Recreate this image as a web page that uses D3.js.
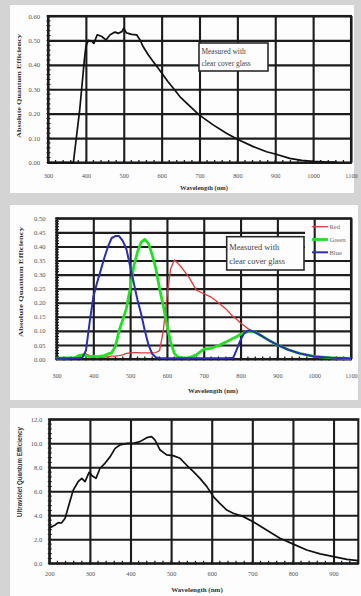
<!DOCTYPE html>
<html>
<head>
<meta charset="utf-8">
<script src="https://cdn.jsdelivr.net/npm/d3@7/dist/d3.min.js"></script>
<style>
  html, body { margin: 0; padding: 0; background: #d4d4d4; }
  svg { display: block; }
</style>
</head>
<body>
<svg id="chart" width="361" height="596"></svg>
<script>
// ---- Panel 1: absolute quantum efficiency, monochrome sensor ----
const wl1 = [300, 367, 384, 396, 400, 406, 415, 421, 430, 442, 453, 464, 477, 486, 495, 500, 507, 521,
             534, 543, 551, 565, 578, 591, 604, 617, 631, 648, 666, 699, 736, 771, 800, 842, 877, 900,
             938, 970, 1000, 1030, 1062];
const qe1 = [0, 0, 0.22, 0.42, 0.475, 0.5, 0.497, 0.488, 0.523, 0.516, 0.502, 0.523, 0.534, 0.529, 0.536, 0.55, 0.531, 0.525,
             0.523, 0.502, 0.475, 0.44, 0.413, 0.386, 0.358, 0.331, 0.304, 0.27, 0.243, 0.195, 0.154, 0.12, 0.095, 0.065, 0.044, 0.035,
             0.017, 0.009, 0.005, 0.003, 0.002];
const xTicks1 = [300, 400, 500, 600, 700, 800, 900, 1000, 1100];
const yTicks1 = [0, 0.1, 0.2, 0.3, 0.4, 0.5, 0.6];

// ---- Panel 2: absolute quantum efficiency, colour sensor ----
const wlRGB = [300, 350, 360, 370, 380, 390, 400, 410, 420, 430, 440, 450, 460, 470, 480, 490, 500, 510, 520, 530,
               540, 550, 560, 570, 580, 590, 600, 610, 620, 630, 640, 660, 680, 700, 720, 740, 760, 780, 790, 800,
               810, 820, 830, 840, 860, 880, 900, 930, 960, 1000, 1050, 1100];
const qeRed = [0.003, 0.003, 0.005, 0.015, 0.018, 0.012, 0.008, 0.006, 0.006, 0.007, 0.008, 0.01, 0.01, 0.012, 0.015, 0.02, 0.022, 0.023, 0.023, 0.022,
               0.022, 0.022, 0.022, 0.023, 0.03, 0.1, 0.22, 0.32, 0.352, 0.34, 0.325, 0.29, 0.245, 0.232, 0.22, 0.2, 0.178, 0.15, 0.14, 0.128,
               0.118, 0.108, 0.1, 0.095, 0.08, 0.064, 0.05, 0.033, 0.02, 0.009, 0.004, 0.002];
const qeGreen = [0.003, 0.005, 0.012, 0.015, 0.012, 0.008, 0.01, 0.008, 0.01, 0.012, 0.018, 0.022, 0.045, 0.1, 0.14, 0.18, 0.25, 0.33, 0.38, 0.415,
                 0.425, 0.41, 0.37, 0.32, 0.25, 0.19, 0.12, 0.06, 0.02, 0.007, 0.005, 0.004, 0.015, 0.035, 0.038, 0.048, 0.06, 0.074, 0.08, 0.088,
                 0.093, 0.097, 0.099, 0.095, 0.08, 0.064, 0.05, 0.033, 0.02, 0.009, 0.004, 0.002];
const qeBlue = [0.003, 0.003, 0.003, 0.005, 0.03, 0.13, 0.22, 0.27, 0.315, 0.36, 0.4, 0.43, 0.437, 0.437, 0.42, 0.39, 0.33, 0.27, 0.21, 0.16,
                0.1, 0.05, 0.018, 0.006, 0.004, 0.003, 0.003, 0.003, 0.003, 0.003, 0.003, 0.003, 0.003, 0.003, 0.003, 0.003, 0.003, 0.004, 0.035, 0.068,
                0.092, 0.1, 0.1, 0.095, 0.08, 0.064, 0.05, 0.033, 0.02, 0.009, 0.004, 0.002];
const seriesNames = ["Red", "Green", "Blue"];
const xTicks2 = [300, 400, 500, 600, 700, 800, 900, 1000, 1100];
const yTicks2 = [0, 0.05, 0.1, 0.15, 0.2, 0.25, 0.3, 0.35, 0.4, 0.45, 0.5];

// ---- Panel 3: ultraviolet quantum efficiency ----
const wl3 = [200, 214, 222, 230, 239, 247, 259, 271, 280, 288, 298, 307, 315, 325, 337, 350, 362, 374, 391, 407,
             423, 440, 452, 460, 473, 489, 505, 522, 538, 555, 571, 588, 604, 620, 637, 653, 678, 702, 735, 768,
             801, 834, 867, 900, 933, 961];
const qe3 = [2.92, 3.19, 3.39, 3.36, 3.75, 4.72, 6.1, 6.8, 7.08, 6.8, 7.58, 7.25, 7.08, 7.92, 8.33, 8.89, 9.58, 9.86, 9.99, 10.0,
             10.14, 10.47, 10.55, 10.28, 9.44, 9.03, 8.97, 8.75, 8.19, 7.64, 7.08, 6.39, 5.56, 5.0, 4.44, 4.17, 3.89, 3.47, 2.78, 2.08,
             1.6, 1.11, 0.78, 0.56, 0.33, 0.22];
const xTicks3 = [200, 300, 400, 500, 600, 700, 800, 900];
const yTicks3 = [0, 2, 4, 6, 8, 10, 12];

const SERIF = "'Liberation Serif', 'DejaVu Serif', serif";
const SANS = "'Liberation Sans', Arial, sans-serif";
const GRID = "#1c1c1c";
const GRID_W = "2.1px";

const svg = d3.select("#chart");

function drawPanel(cfg) {
  const g = svg.append("g");
  g.append("rect")
    .attr("x", cfg.box[0]).attr("y", cfg.box[1])
    .attr("width", cfg.box[2] - cfg.box[0]).attr("height", cfg.box[3] - cfg.box[1])
    .attr("fill", "#fdfdfd");

  const x = d3.scaleLinear().domain(cfg.xDomain).range([cfg.left, cfg.right]);
  const y = d3.scaleLinear().domain(cfg.yDomain).range([cfg.bottom, cfg.top]);

  // horizontal grid + y labels
  const gy = g.append("g")
    .attr("transform", `translate(${cfg.left},0)`)
    .call(d3.axisLeft(y).tickValues(cfg.yTicks).tickSize(-(cfg.right - cfg.left))
      .tickPadding(cfg.yPad).tickFormat(d3.format(cfg.yFmt)));
  gy.select(".domain").remove();
  gy.selectAll("line").style("stroke", GRID).style("stroke-width", GRID_W);
  gy.selectAll("text").attr("font-family", SERIF).attr("font-size", 6.6).attr("fill", "#555");

  if (cfg.beforeVertical) cfg.beforeVertical(g, x, y);

  // vertical grid + x labels
  const gx = g.append("g")
    .attr("transform", `translate(0,${cfg.bottom})`)
    .call(d3.axisBottom(x).tickValues(cfg.xTicks).tickSize(-(cfg.bottom - cfg.top))
      .tickPadding(cfg.xPad).tickFormat(d3.format("d")));
  gx.select(".domain").remove();
  gx.selectAll("line").style("stroke", GRID).style("stroke-width", GRID_W);
  gx.selectAll("text").attr("font-family", SERIF).attr("font-size", 6.3).attr("fill", "#555");

  // plot frame
  g.append("rect")
    .attr("x", cfg.left).attr("y", cfg.top)
    .attr("width", cfg.right - cfg.left).attr("height", cfg.bottom - cfg.top)
    .style("fill", "none").style("stroke", GRID).style("stroke-width", GRID_W);

  // minor ticks along both axes
  const xm = d3.range(cfg.xDomain[0], cfg.xDomain[1] + 0.001, cfg.xMinor);
  g.append("g").selectAll("line").data(xm).join("line")
    .attr("x1", d => x(d)).attr("x2", d => x(d))
    .attr("y1", cfg.bottom - 2.5).attr("y2", cfg.bottom + 1.5)
    .style("stroke", GRID).style("stroke-width", "1.3px");
  const ym = d3.range(cfg.yDomain[0], cfg.yDomain[1] + 1e-9, cfg.yMinor);
  g.append("g").selectAll("line").data(ym).join("line")
    .attr("x1", cfg.left - 1.5).attr("x2", cfg.left + 2.5)
    .attr("y1", d => y(d)).attr("y2", d => y(d))
    .style("stroke", GRID).style("stroke-width", "1.1px");

  // axis titles
  g.append("text")
    .attr("x", cfg.xTitlePos[0]).attr("y", cfg.xTitlePos[1]).attr("dy", "0.35em")
    .attr("text-anchor", "middle").attr("font-family", SERIF).attr("font-weight", "bold")
    .attr("font-size", cfg.xTitleSize).attr("fill", "#333").text("Wavelength (nm)");
  g.append("text")
    .attr("transform", `translate(${cfg.yTitlePos[0]},${cfg.yTitlePos[1]}) rotate(-90)`)
    .attr("dy", "0.35em").attr("text-anchor", "middle")
    .attr("font-family", cfg.yTitleFont).attr("font-weight", "bold")
    .attr("font-size", cfg.yTitleSize).attr("fill", "#333")
    .attr("textLength", cfg.yTitleLen).attr("lengthAdjust", "spacingAndGlyphs")
    .text(cfg.yTitle);

  return { g, x, y };
}

function noteBox(g, x0, y0, x1, y1, size) {
  g.append("rect").attr("x", x0).attr("y", y0).attr("width", x1 - x0).attr("height", y1 - y0)
    .style("fill", "#fdfdfd").style("stroke", "#2a2a2a").style("stroke-width", "1.6px");
  const lines = ["Measured with", "clear cover glass"];
  const step = (y1 - y0) / 2.4;
  lines.forEach((t, i) => {
    g.append("text").attr("x", x0 + 2.5).attr("y", y0 + step * (0.75 + i)).attr("dy", "0.35em")
      .attr("font-family", SERIF).attr("font-size", size).attr("fill", "#444").text(t);
  });
}

// ---------- Panel 1 ----------
const p1 = drawPanel({
  box: [10, 5, 354, 193],
  left: 48, right: 351, top: 16, bottom: 162.5,
  xDomain: [300, 1100], yDomain: [0, 0.6],
  xTicks: xTicks1, yTicks: yTicks1, yFmt: ".2f",
  xMinor: 20, yMinor: 0.02,
  yPad: 8, xPad: 11,
  xTitlePos: [204, 188], xTitleSize: 6.5, yTitlePos: [19, 86],
  yTitle: "Absolute Quantum Efficiency", yTitleFont: SERIF, yTitleSize: 6.5, yTitleLen: 104
});
noteBox(p1.g, 199, 43, 268, 71, 7.4);
p1.g.append("path")
  .datum(d3.zip(wl1, qe1))
  .attr("fill", "none").attr("stroke", "#111").attr("stroke-width", 1.7).attr("stroke-linejoin", "round")
  .attr("d", d3.line().x(d => p1.x(d[0])).y(d => p1.y(d[1])));

// ---------- Panel 2 ----------
const colours = ["#e23a3a", "#22e022", "#2b2fb0"];
const widths = [1.3, 2.8, 2];
const p2 = drawPanel({
  box: [10, 205, 358, 400],
  left: 56.5, right: 351, top: 218.3, bottom: 359,
  xDomain: [300, 1100], yDomain: [0, 0.5],
  xTicks: xTicks2, yTicks: yTicks2, yFmt: ".2f",
  xMinor: 20, yMinor: 0.01,
  yPad: 11, xPad: 14.5,
  xTitlePos: [213, 391], xTitleSize: 6.8, yTitlePos: [21, 282],
  yTitle: "Absolute Quantum Efficiency", yTitleFont: SERIF, yTitleSize: 6.5, yTitleLen: 110,
  beforeVertical: (g) => {
    g.append("rect").attr("x", 305).attr("y", 220).attr("width", 46).attr("height", 38).attr("fill", "#fdfdfd");
  }
});
noteBox(p2.g, 226.7, 236.7, 304, 270, 8.4);
[qeRed, qeGreen, qeBlue].forEach((vals, i) => {
  p2.g.append("path")
    .datum(d3.zip(wlRGB, vals))
    .attr("fill", "none").attr("stroke", colours[i]).attr("stroke-width", widths[i]).attr("stroke-linejoin", "round")
    .attr("d", d3.line().x(d => p2.x(d[0])).y(d => p2.y(d[1])));
});
// legend
const legY = d3.scalePoint().domain(seriesNames).range([226.7, 252.3]);
const leg = p2.g.append("g");
leg.selectAll("line").data(seriesNames).join("line")
  .attr("x1", 312).attr("x2", 328).attr("y1", d => legY(d)).attr("y2", d => legY(d))
  .attr("stroke", (d, i) => colours[i]).attr("stroke-width", (d, i) => widths[i]);
leg.selectAll("text").data(seriesNames).join("text")
  .attr("x", 329.5).attr("y", d => legY(d)).attr("dy", "0.35em")
  .attr("font-family", SERIF).attr("font-size", 6.5).attr("fill", "#666").text(d => d);

// ---------- Panel 3 ----------
const p3 = drawPanel({
  box: [10, 408, 361, 596],
  left: 49.3, right: 358.3, top: 419.3, bottom: 563.3,
  xDomain: [200, 961], yDomain: [0, 12],
  xTicks: xTicks3, yTicks: yTicks3, yFmt: ".1f",
  xMinor: 20, yMinor: 0.4,
  yPad: 7, xPad: 8.5,
  xTitlePos: [197, 590], xTitleSize: 7, yTitlePos: [20, 472],
  yTitle: "Ultraviolet Quantum Efficiency", yTitleFont: SANS, yTitleSize: 6.5, yTitleLen: 90
});
p3.g.append("path")
  .datum(d3.zip(wl3, qe3))
  .attr("fill", "none").attr("stroke", "#111").attr("stroke-width", 1.7).attr("stroke-linejoin", "round")
  .attr("d", d3.line().x(d => p3.x(d[0])).y(d => p3.y(d[1])));
</script>
</body>
</html>
